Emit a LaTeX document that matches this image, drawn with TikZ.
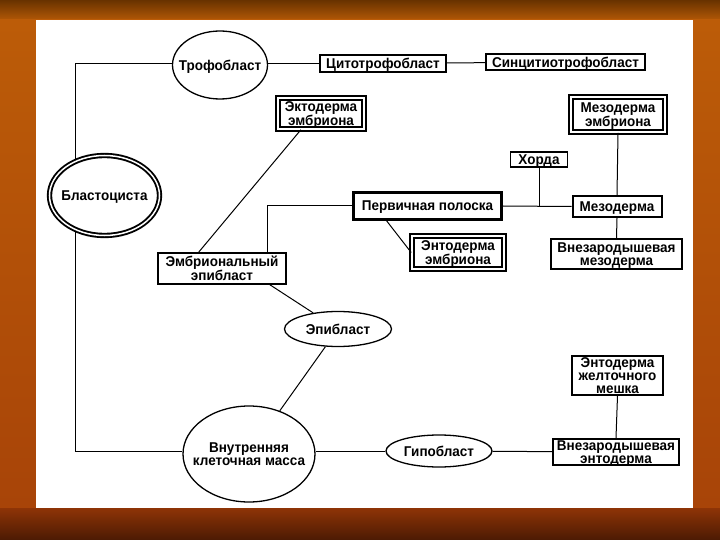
\documentclass[tikz,border=0pt]{standalone}
\usepackage{fontspec}
\setmainfont{Liberation Sans}
\newfontfamily\diafont{Liberation Sans}[FakeStretch=0.95]
\usetikzlibrary{shapes.geometric,calc}
\definecolor{bgtopA}{HTML}{683200}
\definecolor{bgtopB}{HTML}{B25806}
\definecolor{bgmidA}{HTML}{BC5C08}
\definecolor{bgmidB}{HTML}{A84408}
\definecolor{bgbotA}{HTML}{8E3406}
\definecolor{bgbotB}{HTML}{4C1A04}
\tikzset{
  lbl/.style={font=\diafont\bfseries\fontsize{14.2}{13.2}\selectfont, align=center, inner sep=0pt, text=black, text depth=0pt},
  box/.style={lbl, draw, rectangle, line width=1.6pt},
  boxm/.style={lbl, draw, rectangle, line width=2pt},
  boxb/.style={lbl, draw, rectangle, line width=3pt},
  dbox/.style={lbl, draw, rectangle, line width=1.6pt, double=white, double distance=2.4pt},
  oval/.style={draw, ellipse, inner sep=0pt, line width=1.3pt, label={[lbl]center:#1}},
  dblo/.style={draw, ellipse, inner sep=0pt, line width=1.9pt, double=white, double distance=1.5pt, label={[lbl]center:#1}},
  link/.style={line width=1pt}
}
\begin{document}
\begin{tikzpicture}[x=1pt,y=-1pt]
\useasboundingbox (0,0) rectangle (720,540);
% background
\fill[top color=bgtopA, bottom color=bgtopB] (0,0) rectangle (720,20);
\fill[top color=bgmidA, bottom color=bgmidB] (0,20) rectangle (720,508);
\fill[top color=bgbotA, bottom color=bgbotB] (0,508) rectangle (720,540);
\fill[white] (36,20) rectangle (693,508);

% nodes
\node[oval={Трофобласт}, minimum width=95pt, minimum height=68pt] (troph) at (220,65) {};
\node[boxm, minimum width=126pt, minimum height=17pt] (cyto) at (383,63.5) {Цитотрофобласт};
\node[boxm, minimum width=159pt, minimum height=16pt] (sync) at (565.5,62) {Синцитиотрофобласт};
\node[dbox, minimum width=86pt, minimum height=31pt] (ecto) at (321,113.5) {Эктодерма\\эмбриона};
\node[dbox, minimum width=94pt, minimum height=35pt] (mesemb) at (618,114.5) {Мезодерма\\эмбриона};
\node[box, minimum width=57pt, minimum height=15pt] (chorda) at (539,159.5) {Хорда};
\node[dblo={Бластоциста}, minimum width=110pt, minimum height=80pt] (blast) at (104.5,195.5) {};
\node[boxb, minimum width=148pt, minimum height=27pt] (prim) at (427.5,206) {Первичная полоска};
\node[boxm, minimum width=89pt, minimum height=21pt] (mes) at (617,206.5) {Мезодерма};
\node[dbox, minimum width=92pt, minimum height=33pt] (entemb) at (458,252.5) {Энтодерма\\эмбриона};
\node[box, minimum width=131pt, minimum height=30pt] (vnmes) at (616.5,254) {Внезародышевая\\мезодерма};
\node[box, minimum width=128pt, minimum height=31pt] (embepi) at (222,268.5) {Эмбриональный\\эпибласт};
\node[oval={Эпибласт}, minimum width=107pt, minimum height=35pt] (epibl) at (338,329) {};
\node[box, minimum width=91pt, minimum height=39pt] (yolk) at (617.5,375.5) {Энтодерма\\желточного\\мешка};
\node[oval={Внутренняя\\клеточная масса}, minimum width=132pt, minimum height=96pt] (vnutr) at (249,454) {};
\node[oval={Гипобласт}, minimum width=106pt, minimum height=32pt] (hypo) at (439,451) {};
\node[boxm, minimum width=126pt, minimum height=26pt] (vnent) at (616,452) {Внезародышевая\\энтодерма};

\coordinate (bt) at (75,159);
\coordinate (bb) at (75,232);

% connectors
\draw[link] (troph.west |- cyto.west) -| (bt);
\draw[link] (bb) |- (vnutr.west |- hypo.west);
\draw[link] (troph.east |- cyto.west) -- (cyto.west);
\draw[link] (cyto) -- (sync);
\draw[link] ($(embepi.north west)!0.32!(embepi.north east)$) -- ($(ecto.south west)!0.27!(ecto.south east)$);
\draw[link] ($(embepi.north west)!0.85!(embepi.north east)$) |- (prim.west);
\draw[link] ($(prim.south west)!0.23!(prim.south east)$) -- (entemb.west);
\draw[link] (prim.east) -- (mes.west);
\draw[link] (chorda.south) -- (chorda.south |- prim.east);
\draw[link] (mesemb.south) -- (mes.north);
\draw[link] (mes.south) -- (vnmes.north);
\draw[link] ($(embepi.south west)!0.87!(embepi.south east)$) -- (epibl);
\draw[link] (epibl) -- (vnutr);
\draw[link] (vnutr.east |- hypo.west) -- (hypo.west);
\draw[link] (hypo) -- (vnent);
\draw[link] (vnent.north) -- (yolk.south);
\end{tikzpicture}
\end{document}
